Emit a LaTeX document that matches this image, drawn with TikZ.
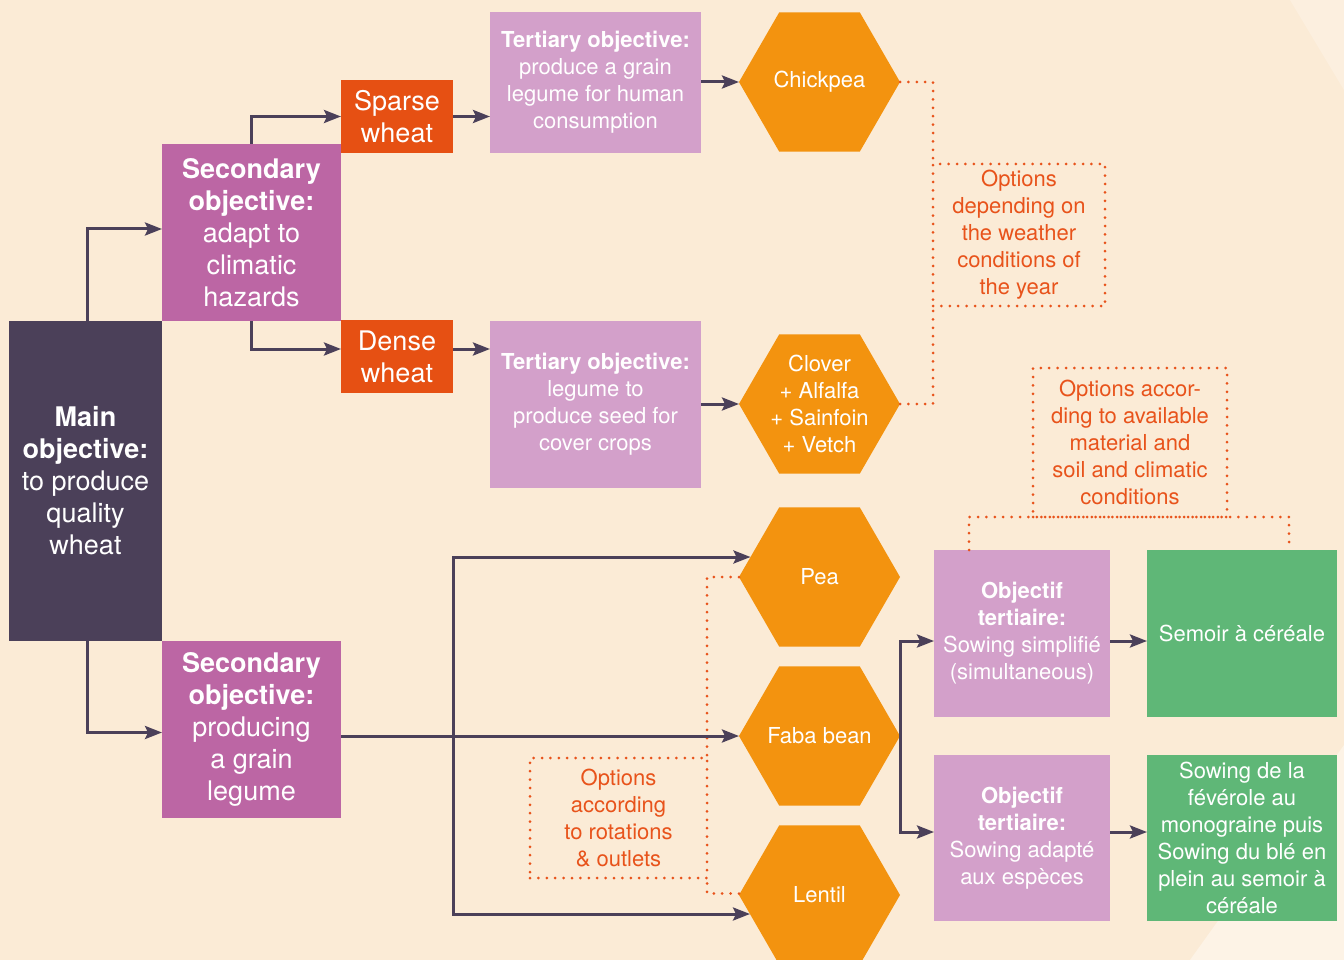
\documentclass[tikz,border=0pt]{standalone}
\usepackage{fontspec}
\setmainfont{TeX Gyre Heros}
\usetikzlibrary{shapes.geometric,arrows.meta,calc}
\definecolor{bg}{HTML}{FBEBD6}
\definecolor{bglight}{HTML}{FDF3E6}
\definecolor{dark}{HTML}{4B4059}
\definecolor{magenta}{HTML}{BC66A4}
\definecolor{lilac}{HTML}{D3A0CA}
\definecolor{redor}{HTML}{E65013}
\definecolor{hexor}{HTML}{F3930F}
\definecolor{leaf}{HTML}{5FB777}
\definecolor{opttext}{HTML}{E8531B}
\tikzset{
  box/.style={inner sep=0pt, outer sep=0pt, text=white, align=center},
  big/.style={font=\fontsize{27}{32}\selectfont},
  small/.style={font=\fontsize{22}{27}\selectfont},
  mainbox/.style={box, big, fill=dark, minimum width=153pt, minimum height=320pt},
  secbox/.style={box, big, fill=magenta, minimum width=179pt, minimum height=177pt},
  wheatbox/.style={box, big, fill=redor, minimum width=112pt, minimum height=73pt},
  tertbox/.style={box, small, fill=lilac, minimum width=211pt},
  objbox/.style={box, small, fill=lilac, minimum width=176pt},
  greenbox/.style={box, small, fill=leaf, minimum width=190pt},
  hexa/.style={regular polygon, regular polygon sides=6,
    fill=hexor, minimum size=161pt, inner sep=0pt, outer sep=0pt},
  hextext/.style={box, small},
  optbox/.style={inner sep=0pt, outer sep=0pt, align=center, small, text=opttext,
    draw=opttext, line width=3pt, line cap=round, dash pattern=on 0pt off 8.4pt},
  optline/.style={draw=opttext, line width=3pt, line cap=round, dash pattern=on 0pt off 8.4pt},
  arr/.style={draw=dark, line width=3pt, -{Stealth[length=17pt,width=13pt,inset=3pt]}},
}
\begin{document}
\begin{tikzpicture}[x=1pt,y=-1pt]
\useasboundingbox (0,0) rectangle (1344,960);
\clip (0,0) rectangle (1344,960);
\fill[bg] (0,0) rectangle (1344,960);
\fill[bglight] (1190,960) -- (1344,745) -- (1344,960) -- cycle;
\fill[bglight, opacity=0.6] (1290,0) -- (1344,0) -- (1344,90) -- cycle;

% boxes
\node[mainbox] (main) at (85.5,481) {\textbf{Main}\\\textbf{objective:}\\to produce\\quality\\wheat};
\node[secbox] (sec1) at (251.5,232.5) {\textbf{Secondary}\\\textbf{objective:}\\adapt to\\climatic\\hazards};
\node[secbox] (sec2) at (251.5,729.5) {\textbf{Secondary}\\\textbf{objective:}\\producing\\a grain\\legume};
\node[wheatbox] (sparse) at (397,116.5) {Sparse\\wheat};
\node[wheatbox] (dense) at (397,356.5) {Dense\\wheat};
\node[tertbox, minimum height=141pt] (tert1) at (595.5,82.5) {\textbf{Tertiary objective:}\\produce a grain\\legume for human\\consumption};
\node[tertbox, minimum height=167pt] (tert2) at (595.5,404.5) {\textbf{Tertiary objective:}\\legume to\\produce seed for\\cover crops};

% hexagons
\node[hexa] (chick) at (819.5,82) {};
\node[hextext] (chickT) at (chick.center) {Chickpea};
\node[hexa] (clover) at (819.5,404) {};
\node[hextext] (cloverT) at (clover.center) {Clover\\+ Alfalfa\\+ Sainfoin\\+ Vetch};
\node[hexa] (pea) at (819.5,577) {};
\node[hextext] (peaT) at (pea.center) {Pea};
\node[hexa] (faba) at (819.5,736) {};
\node[hextext] (fabaT) at (faba.center) {Faba bean};
\node[hexa] (lentil) at (819.5,895) {};
\node[hextext] (lentilT) at (lentil.center) {Lentil};

% objectif tertiaire & green
\node[objbox, minimum height=167pt] (obj1) at (1022,633.5) {\textbf{Objectif}\\\textbf{tertiaire:}\\Sowing simplifié\\(simultaneous)};
\node[objbox, minimum height=166pt] (obj2) at (1022,838) {\textbf{Objectif}\\\textbf{tertiaire:}\\Sowing adapté\\aux espèces};
\node[greenbox, minimum height=167pt] (semoir) at (1242,633.5) {Semoir à céréale};
\node[greenbox, minimum height=166pt] (sowing) at (1242,838) {Sowing de la\\févérole au\\monograine puis\\Sowing du blé en\\plein au semoir à\\céréale};

% option boxes
\node[optbox, minimum width=172pt, minimum height=142pt] (weather) at (1019,235) {Options\\depending on\\the weather\\conditions of\\the year};
\node[optbox, minimum width=194pt, minimum height=149pt] (accor) at (1130,442.5) {Options accor-\\ding to available\\material and\\soil and climatic\\conditions};
\node[optbox, minimum width=177pt, minimum height=120pt] (rot) at (618.5,818) {Options\\according\\to rotations\\\& outlets};

% dotted connectors
\draw[optline] (chick.east) -| (weather.north west);
\draw[optline] (clover.east) -| (weather.south west);
\draw[optline] ($(obj1.north west)+(35,0)$) |- (accor.south) -| ($(semoir.north west)+(142,0)$);
\draw[optline] (pea.west) -| (rot.north east);
\draw[optline] ([yshift=1.5pt]lentil.west) -| (rot.south east);

% arrows
\draw[arr] ([xshift=2pt]main.north) |- ([yshift=3.5pt]sec1.west);
\draw[arr] ([xshift=2pt]main.south) |- ([yshift=-3pt]sec2.west);
\draw[arr] (sec1.north) |- (sparse.west);
\draw[arr] (sec1.south) |- ([yshift=7.5pt]dense.west);
\draw[arr] (sparse.east) -- (sparse.east -| tert1.west);
\draw[arr] ([yshift=7.5pt]dense.east) -- ([yshift=7.5pt]dense.east -| tert2.west);
\draw[arr] (tert1.east |- chick.west) -- (chick.west);
\draw[arr] (tert2.east |- clover.west) -- (clover.west);
\draw[arr] (sec2.east |- faba.west) -- (faba.west);
\coordinate (junc) at (453,736);
\draw[arr] (junc) |- ([xshift=11.5pt,yshift=20pt]pea.west);
\draw[arr] (junc) |- ([xshift=11pt,yshift=-19pt]lentil.west);
\draw[arr] (faba.east) |- ([yshift=-7.5pt]obj1.west);
\draw[arr] (faba.east) |- ([yshift=6pt]obj2.west);
\draw[arr] ([yshift=-7.5pt]obj1.east) -- ([yshift=-7.5pt]obj1.east -| semoir.west);
\draw[arr] ([yshift=6pt]obj2.east) -- ([yshift=6pt]obj2.east -| sowing.west);
\end{tikzpicture}
\end{document}
